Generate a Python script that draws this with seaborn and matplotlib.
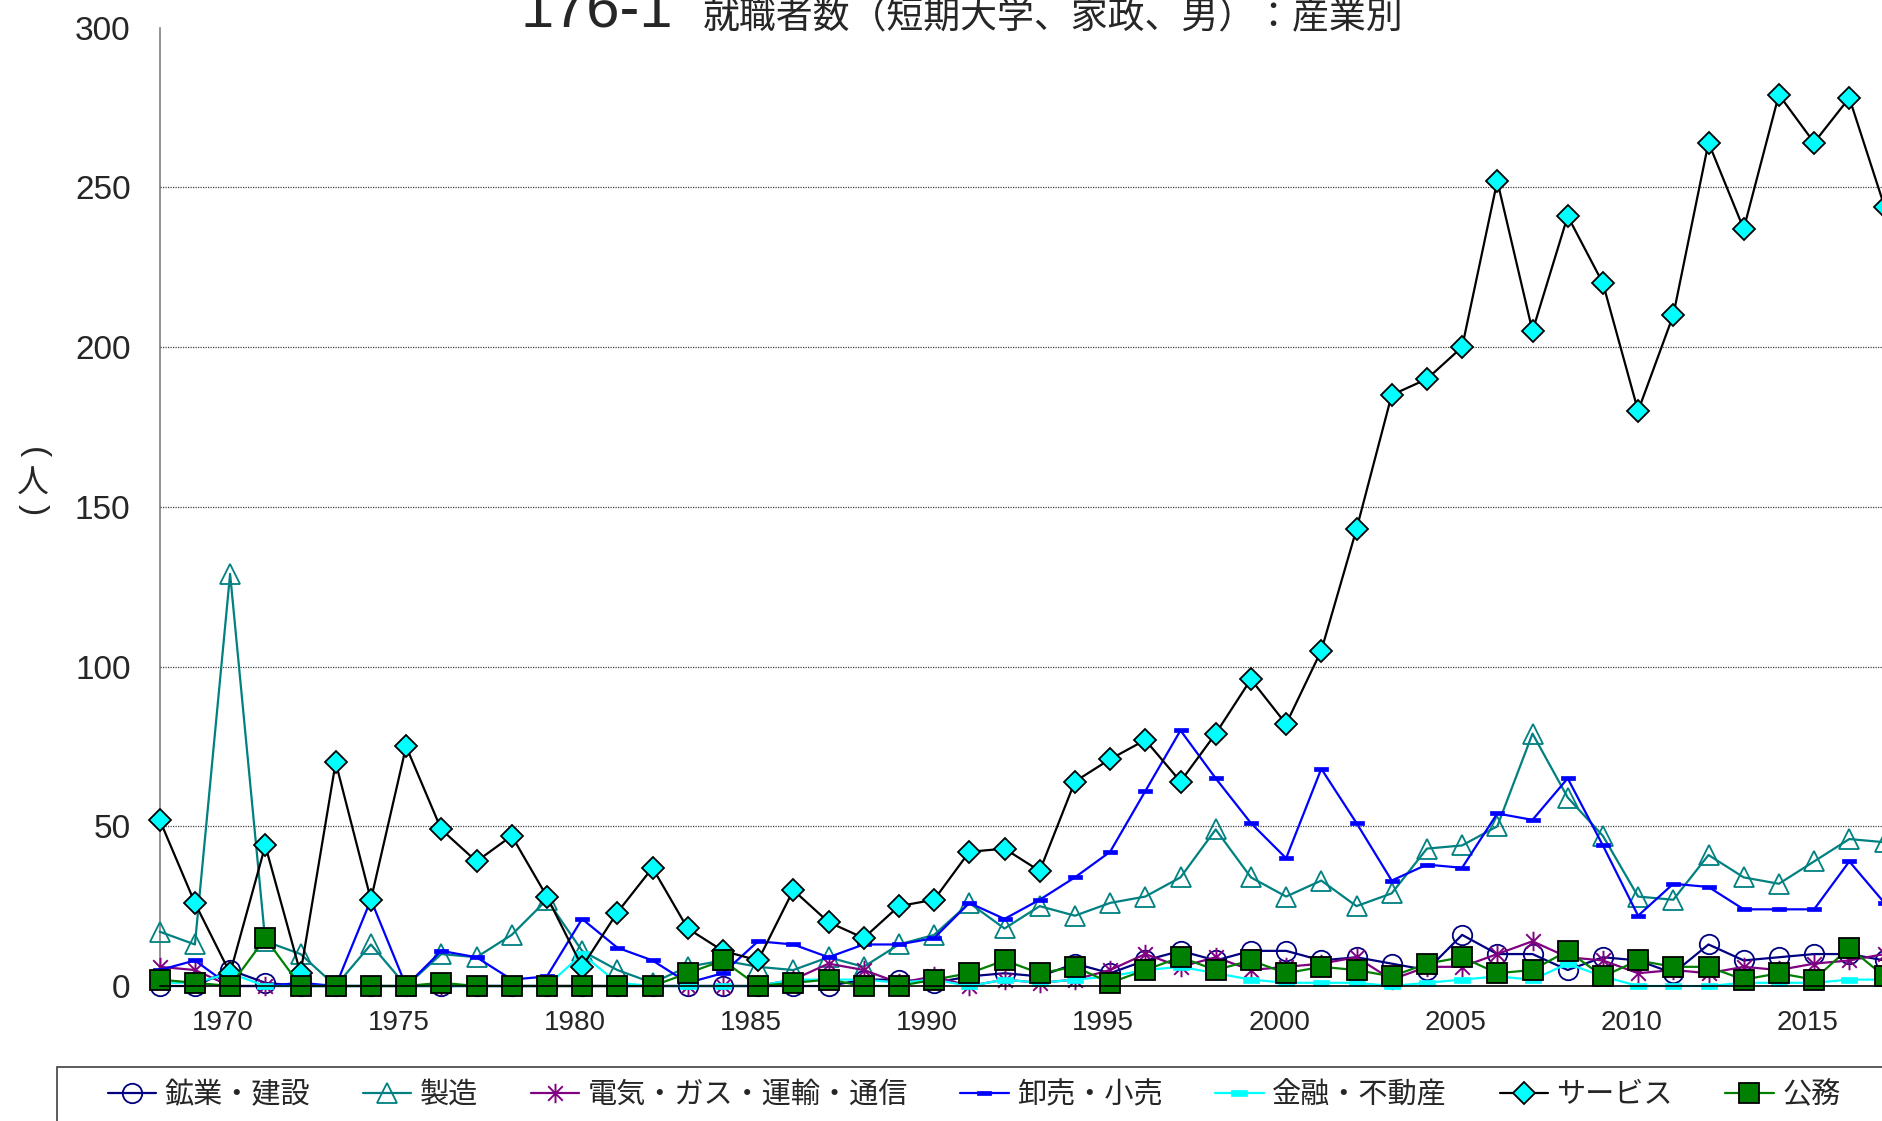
import numpy as np
import pandas as pd
import matplotlib
matplotlib.use('Agg')
import matplotlib.pyplot as plt
import matplotlib.patches as mpatches
import matplotlib.transforms as mtransforms
from matplotlib.path import Path
import seaborn as sns

# data
years = list(range(1968, 2018))

mining = [0, 0, 5, 1, 0, 0, 0, 0, 0, 0,
          0, 0, 0, 0, 0, 0, 0, 0, 0, 0,
          2, 2, 1, 3, 4, 3, 7, 4, 8, 11,
          8, 11, 11, 8, 9, 7, 5, 16, 10, 10,
          5, 9, 8, 4, 13, 8, 9, 10, 10, 8]
manufacturing = [17, 13, 129, 14, 10, 0, 13, 0, 10, 9,
                 16, 27, 11, 5, 1, 6, 8, 6, 5, 9,
                 6, 13, 16, 26, 18, 25, 22, 26, 28, 34,
                 49, 34, 28, 33, 25, 29, 43, 44, 50, 79,
                 59, 47, 28, 27, 41, 34, 32, 39, 46, 45]
utilities = [6, 5, 0, 0, 0, 0, 0, 0, 0, 0,
             0, 0, 0, 0, 0, 0, 0, 0, 2, 7,
             5, 1, 3, 0, 2, 1, 2, 5, 10, 6,
             9, 5, 6, 7, 9, 2, 6, 6, 10, 14,
             9, 8, 4, 5, 4, 6, 5, 7, 8, 10]
retail = [5, 8, 0, 0, 1, 0, 27, 0, 11, 9,
          2, 3, 21, 12, 8, 1, 4, 14, 13, 9,
          13, 13, 15, 26, 21, 27, 34, 42, 61, 80,
          65, 51, 40, 68, 51, 33, 38, 37, 54, 52,
          65, 44, 22, 32, 31, 24, 24, 24, 39, 26]
finance = [1, 1, 4, 0, 0, 0, 0, 0, 0, 0,
           0, 0, 10, 1, 0, 0, 0, 0, 2, 2,
           2, 1, 2, 0, 2, 1, 2, 3, 5, 6,
           4, 2, 1, 1, 1, 0, 1, 2, 3, 2,
           7, 3, 0, 0, 0, 1, 1, 1, 2, 2]
service = [52, 26, 4, 44, 4, 70, 27, 75, 49, 39,
           47, 28, 6, 23, 37, 18, 11, 8, 30, 20,
           15, 25, 27, 42, 43, 36, 64, 71, 77, 64,
           79, 96, 82, 105, 143, 185, 190, 200, 252, 205,
           241, 220, 180, 210, 264, 237, 279, 264, 278, 244]
public = [2, 1, 0, 15, 0, 0, 0, 0, 1, 0,
          0, 0, 0, 0, 0, 4, 8, 0, 1, 2,
          0, 0, 2, 4, 8, 4, 6, 1, 5, 9,
          5, 8, 4, 6, 5, 3, 7, 9, 4, 5,
          11, 3, 8, 6, 6, 2, 4, 2, 12, 3]

labels = ['鉱業・建設', '製造', '電気・ガス・運輸・通信', '卸売・小売',
          '金融・不動産', 'サービス', '公務']
x_ticks = [1970, 1975, 1980, 1985, 1990, 1995, 2000, 2005, 2010, 2015]
y_ticks = [0, 50, 100, 150, 200, 250, 300]

# custom markers
star = Path([(0, -1), (0, 1), (-0.75, -0.75), (0.75, 0.75), (-0.75, 0.75), (0.75, -0.75)],
            [Path.MOVETO, Path.LINETO] * 3)
dash = Path([(-1, -0.35), (1, -0.35), (1, 0.35), (-1, 0.35), (-1, -0.35)],
            [Path.MOVETO, Path.LINETO, Path.LINETO, Path.LINETO, Path.CLOSEPOLY])

styles = [
    dict(color='#000080', marker='o', markersize=14, markerfacecolor='none',
         markeredgecolor='#000080', markeredgewidth=1.3),
    dict(color='#008080', marker='^', markersize=15, markerfacecolor='none',
         markeredgecolor='#008080', markeredgewidth=1.3),
    dict(color='#800080', marker=star, markersize=14, markerfacecolor='none',
         markeredgecolor='#800080', markeredgewidth=1.4),
    dict(color='#0000FF', marker=dash, markersize=9.5, markerfacecolor='#0000FF',
         markeredgecolor='#0000FF', markeredgewidth=0.5),
    dict(color='#00FFFF', marker=dash, markersize=11, markerfacecolor='#00FFFF',
         markeredgecolor='#00FFFF', markeredgewidth=0.5),
    dict(color='black', marker='D', markersize=11, markerfacecolor='#00FFFF',
         markeredgecolor='black', markeredgewidth=1.3),
    dict(color='#008000', marker='s', markersize=15, markerfacecolor='#008000',
         markeredgecolor='black', markeredgewidth=1.3),
]
series = [mining, manufacturing, utilities, retail, finance, service, public]

sns.set_style('white')
plt.rcParams['font.family'] = ['Liberation Sans', 'Noto Sans CJK JP']

W, H = 1883, 1121
fig = plt.figure(figsize=(W / 100, H / 100), dpi=100)
ax = fig.add_axes([159.7 / W, (H - 986) / H, 1724.8 / W, (986 - 27.6) / H])

for vals, lab, st in zip(series, labels, styles):
    df = pd.DataFrame({'year': years, 'value': vals})
    sns.lineplot(data=df, x='year', y='value', ax=ax, linewidth=1.6,
                 legend=False, clip_on=False, **st)

ax.set_xlim(1968, 2017)
ax.set_ylim(0, 300)
ax.set_xlabel('')
ax.set_ylabel('')

# y axis
ax.set_yticks(y_ticks)
ax.set_yticklabels([str(v) for v in y_ticks], fontsize=24)
ax.tick_params(axis='y', direction='in', length=8, width=1, color='#808080', pad=21)
ax.yaxis.grid(True, linestyle=(0, (1, 1)), color='#444444', linewidth=0.9)
for gl, v in zip(ax.get_ygridlines(), y_ticks):
    if v in (0, 300):
        gl.set_visible(False)

# x axis: ticks every year, labels every 5
ax.set_xticks(years)
ax.set_xticklabels([str(y) if y in x_ticks else '' for y in years], fontsize=20)
ax.tick_params(axis='x', direction='out', length=7, width=1, color='#808080', pad=10)
shift = mtransforms.ScaledTranslation(-7 / 100, 0, fig.dpi_scale_trans)
for lbl in ax.get_xticklabels():
    lbl.set_transform(lbl.get_transform() + shift)

for s in ['top', 'right']:
    ax.spines[s].set_visible(False)
ax.spines['left'].set_color('#808080')
ax.spines['left'].set_linewidth(1.2)
ax.spines['bottom'].set_color('black')
ax.spines['bottom'].set_linewidth(1.2)
ax.spines['left'].set_zorder(0)

# title
fig.text(521 / W, 1 - 28 / H, '176-1', fontsize=43, ha='left', va='baseline')
fig.text(703 / W, 1 - 28 / H, '就職者数（短期大学、家政、男）：産業別',
         fontsize=26.6, ha='left', va='baseline', family=['Noto Sans CJK JP'])

# vertical y label （人）
fig.text(33 / W, 1 - 453 / H, '(', fontsize=24, rotation=-90,
         ha='center', va='center')
fig.text(33 / W, 1 - 484 / H, '人', fontsize=23, ha='center', va='center',
         family=['Noto Sans CJK JP'])
fig.text(33 / W, 1 - 510 / H, ')', fontsize=24, rotation=-90,
         ha='center', va='center')

# legend
handles = ax.get_lines()[:len(labels)]
fig.legend(handles, labels, loc='center left',
           bbox_to_anchor=(108 / W, 1 - 1095 / H), ncol=7, frameon=False,
           fontsize=21, handlelength=1.65, handletextpad=0.3, columnspacing=1.8,
           borderpad=0, borderaxespad=0)
fig.patches.append(mpatches.Rectangle((57 / W, -0.2), 1.2, 0.2 + (H - 1067) / H,
                                      transform=fig.transFigure, fill=False,
                                      edgecolor='#404040', linewidth=1.2))

fig.savefig('out.png', dpi=100)
